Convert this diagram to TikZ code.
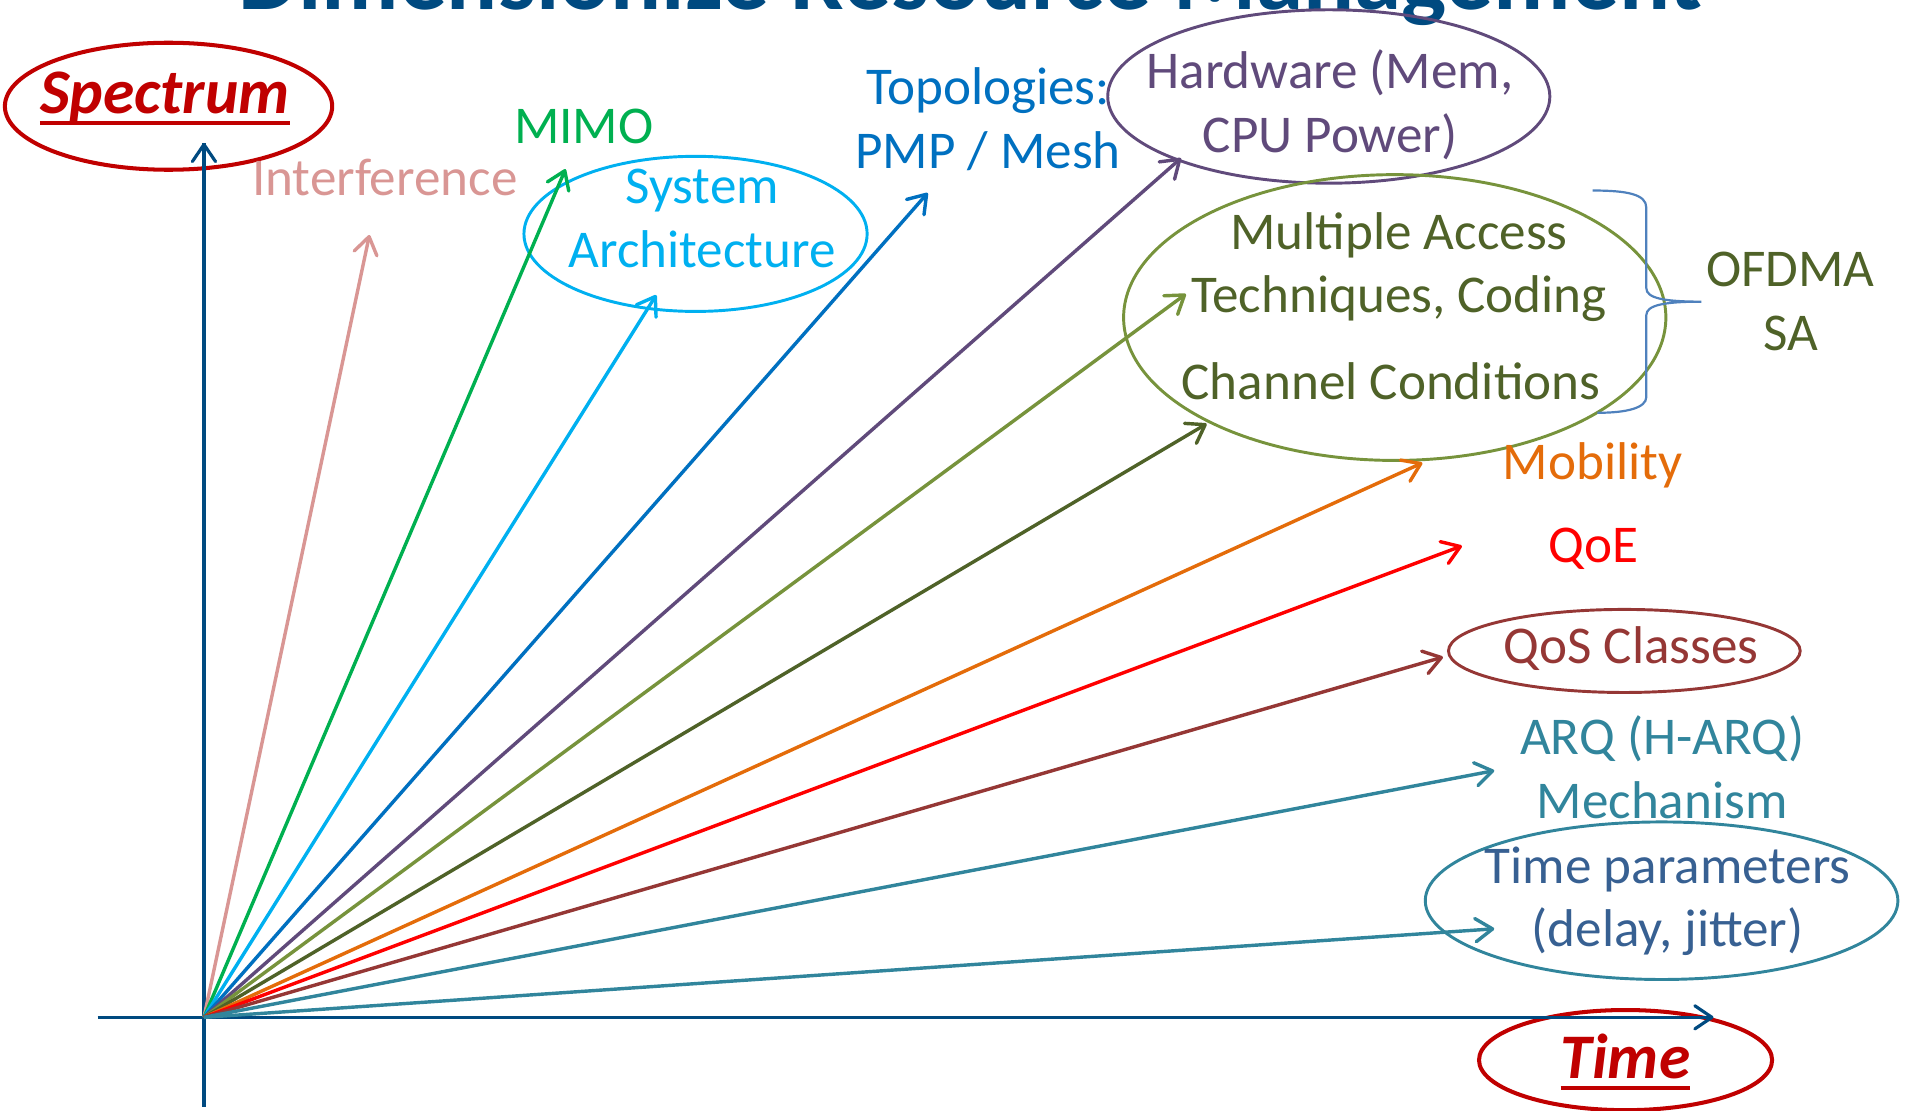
\documentclass[tikz,border=0pt]{standalone}
\usepackage{fontspec}
\setmainfont{Carlito}
\usetikzlibrary{arrows.meta,shapes.geometric}
\definecolor{axisblue}{HTML}{004A80}
\definecolor{keyred}{HTML}{C00000}
\definecolor{pinkc}{HTML}{D99694}
\definecolor{mimog}{HTML}{00B050}
\definecolor{cyanc}{HTML}{00B0F0}
\definecolor{topob}{HTML}{0070C0}
\definecolor{purp}{HTML}{604A7B}
\definecolor{olivel}{HTML}{77933C}
\definecolor{olived}{HTML}{4F6228}
\definecolor{orng}{HTML}{E46C0A}
\definecolor{qoer}{HTML}{FF0000}
\definecolor{brwn}{HTML}{953735}
\definecolor{tealc}{HTML}{31859C}
\definecolor{tpblue}{HTML}{376092}
\definecolor{bracec}{HTML}{4F81BD}
\begin{document}
\begin{tikzpicture}[x=1pt,y=-1pt,
  ray/.style={line width=2.8pt,-{Straight Barb[length=14pt,width=19pt,round]}},
  axisline/.style={axisblue,line width=2.6pt},
  oval/.style={ellipse,draw,line width=2.4pt,inner sep=0pt},
  lbl/.style={font=\fontsize{43.5}{52}\selectfont,inner sep=0pt,align=center,anchor=base},
  keytxt/.style={font=\fontsize{52}{60}\selectfont\bfseries\itshape,text=keyred,inner sep=0pt,anchor=base}]
\useasboundingbox (0,0) rectangle (1568,909);
\clip (0,0) rectangle (1568,909);
% title (cut off at the top)
\node[font=\fontsize{78}{90}\selectfont\bfseries,text=axisblue,anchor=base,inner sep=0pt] (title) at (794.5,7.5) {Dimensionize Resource Management};
% key ellipses
\node[oval,keyred,line width=3.3pt,minimum width=268pt,minimum height=104pt] (espec) at (138,87) {};
\node[keytxt] (spec) at (135,93) {Spectrum};
\draw[keyred,line width=3.2pt] ([yshift=-7.5pt]spec.base west) -- ([yshift=-7.5pt]spec.base east);
\node[oval,keyred,line width=3.3pt,minimum width=240pt,minimum height=82pt] (etime) at (1331,868) {};
\node[keytxt] (time) at (1331,883) {Time};
\draw[keyred,line width=3.2pt] ([yshift=-8pt]time.base west) -- ([yshift=-8pt]time.base east);
% axes
\coordinate (O) at (167,833);
\coordinate (ybot) at (167,906);
\coordinate (ytip) at (167,117);
\coordinate (xleft) at (80,833);
\coordinate (xtip) at (1403,833);
\draw[axisline] (ybot) -- (ytip);
\draw[axisline,-{Straight Barb[length=14pt,width=19pt,round]}] (O) -- (ytip);
\draw[axisline,-{Straight Barb[length=14pt,width=19pt,round]}] (xleft) -- (xtip);
% ellipses
\node[oval,cyanc,minimum width=281pt,minimum height=127pt] (esys) at (569.5,191.5) {};
\node[oval,purp,minimum width=362pt,minimum height=142pt] (ehw) at (1088,79) {};
\node[oval,olivel,minimum width=444pt,minimum height=234pt] (ema) at (1142,260) {};
\node[oval,brwn,minimum width=288pt,minimum height=68pt] (eqos) at (1330,533) {};
\node[oval,tealc,minimum width=387pt,minimum height=129pt] (etp) at (1360.5,737.5) {};
% labels (multi-line nodes: base = last line)
\node[lbl,text=pinkc] (interf) at (315,159.7) {Interference};
\node[lbl,text=mimog] (mimo) at (478,117.3) {MIMO};
\node[lbl,text=cyanc] (sys) at (575,218.8) {System\\Architecture};
\node[lbl,text=topob] (topo) at (809,137.8) {Topologies:\\PMP / Mesh};
\node[lbl,text=purp] (hw) at (1089,124.5) {Hardware (Mem,\\CPU Power)};
\node[lbl,text=olived] (ma) at (1145.5,256) {Multiple Access\\Techniques, Coding};
\node[lbl,text=olived] (chan) at (1139,327) {Channel Conditions};
\node[lbl,text=olived] (ofdma) at (1466,286.6) {OFDMA\\SA};
\node[lbl,text=orng] (mob) at (1304,393) {Mobility};
\node[lbl,text=qoer] (qoe) at (1305,460.5) {QoE};
\node[lbl,text=brwn] (qos) at (1335.5,543) {QoS Classes};
\node[lbl,text=tealc] (arq) at (1361,670) {ARQ (H-ARQ)\\Mechanism};
\node[lbl,text=tpblue] (tp) at (1365.5,775) {Time parameters\\(delay, jitter)};
% brace
\coordinate (btip) at (1393,247);
\draw[bracec,line width=1.8pt] (1304,156) .. controls (1332,156) and (1348,159) .. (1348,170) -- (1348,236) .. controls (1348,244) and (1362,247) .. (btip) .. controls (1362,247) and (1348,250) .. (1348,258) -- (1348,325) .. controls (1348,334) and (1332,338) .. (1308,338);
% ray tips
\coordinate (tInt) at (302.5,192.4);
\coordinate (tMimo) at (463,138.5);
\coordinate (tSys) at (537.3,241.6);
\coordinate (tTop) at (759.6,158);
\coordinate (tHw) at (967,129.5);
\coordinate (tMa) at (971,240.7);
\coordinate (tCh) at (988,347);
\coordinate (tMob) at (1164.6,379);
\coordinate (tQoe) at (1197,447);
\coordinate (tQos) at (1181.5,538);
\coordinate (tArq) at (1223.5,631);
\coordinate (tTp) at (1223.5,760.5);
% rays
\draw[ray,pinkc] (O) -- (tInt);
\draw[ray,mimog] (O) -- (tMimo);
\draw[ray,cyanc] (O) -- (tSys);
\draw[ray,topob] (O) -- (tTop);
\draw[ray,purp] (O) -- (tHw);
\draw[ray,olivel] (O) -- (tMa);
\draw[ray,olived] (O) -- (tCh);
\draw[ray,orng] (O) -- (tMob);
\draw[ray,qoer] (O) -- (tQoe);
\draw[ray,brwn] (O) -- (tQos);
\draw[ray,tealc] (O) -- (tArq);
\draw[ray,tealc] (O) -- (tTp);
\end{tikzpicture}
\end{document}
